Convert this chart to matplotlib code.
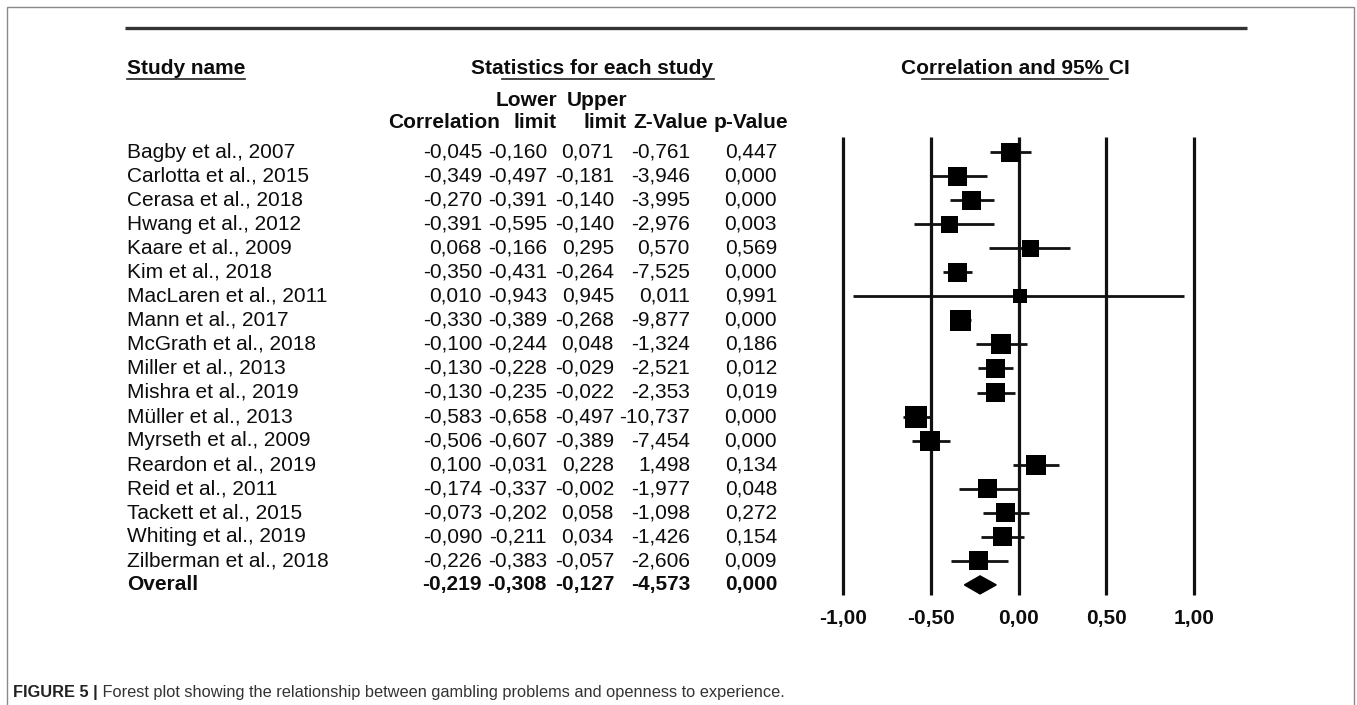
import matplotlib
matplotlib.use("Agg")
import matplotlib.pyplot as plt
from matplotlib import transforms
from matplotlib.lines import Line2D
from matplotlib.patches import Rectangle, Polygon

# ---------------- data ----------------
studies = ["Bagby et al., 2007", "Carlotta et al., 2015", "Cerasa et al., 2018",
           "Hwang et al., 2012", "Kaare et al., 2009", "Kim et al., 2018",
           "MacLaren et al., 2011", "Mann et al., 2017", "McGrath et al., 2018",
           "Miller et al., 2013", "Mishra et al., 2019", "Müller et al., 2013",
           "Myrseth et al., 2009", "Reardon et al., 2019", "Reid et al., 2011",
           "Tackett et al., 2015", "Whiting et al., 2019", "Zilberman et al., 2018"]
correlation = [-0.045, -0.349, -0.270, -0.391, 0.068, -0.350, 0.010, -0.330, -0.100,
               -0.130, -0.130, -0.583, -0.506, 0.100, -0.174, -0.073, -0.090, -0.226]
lower_limit = [-0.160, -0.497, -0.391, -0.595, -0.166, -0.431, -0.943, -0.389, -0.244,
               -0.228, -0.235, -0.658, -0.607, -0.031, -0.337, -0.202, -0.211, -0.383]
upper_limit = [0.071, -0.181, -0.140, -0.140, 0.295, -0.264, 0.945, -0.268, 0.048,
               -0.029, -0.022, -0.497, -0.389, 0.228, -0.002, 0.058, 0.034, -0.057]
z_value = [-0.761, -3.946, -3.995, -2.976, 0.570, -7.525, 0.011, -9.877, -1.324,
           -2.521, -2.353, -10.737, -7.454, 1.498, -1.977, -1.098, -1.426, -2.606]
p_value = [0.447, 0.000, 0.000, 0.003, 0.569, 0.000, 0.991, 0.000, 0.186,
           0.012, 0.019, 0.000, 0.000, 0.134, 0.048, 0.272, 0.154, 0.009]
overall_label = "Overall"
overall = dict(correlation=-0.219, lower=-0.308, upper=-0.127, z=-4.573, p=0.000)
axis_ticks = [-1.0, -0.5, 0.0, 0.5, 1.0]

# relative square sizes (pixels) (study weights)
square_px = [19, 19, 19, 17, 17, 19, 14, 21, 20, 19, 19, 22, 20, 20, 19, 19, 19, 19]

# ---------------- layout helpers ----------------
W, H = 1357, 705
plt.rcParams['font.family'] = ['Liberation Sans', 'DejaVu Sans']
fig = plt.figure(figsize=(W / 100, H / 100), dpi=100)


def fx(x):
    return x / W


def fy(y):
    return 1 - y / H


FS = 15
TXT = '#0d0d0d'

# frame
fig.add_artist(Rectangle((fx(7), fy(715)), fx(1354) - fx(7), fy(7) - fy(715),
                         transform=fig.transFigure, fill=False,
                         edgecolor='#8a8a8a', lw=1.0))
# top rule
fig.add_artist(Line2D([fx(125), fx(1247)], [fy(28), fy(28)], transform=fig.transFigure,
                      color='#333333', lw=2.4, solid_capstyle='butt'))

# forest axes
row_top, row_step = 152, 24.05
ax_top, ax_bot = 137, 595
ax = fig.add_axes([fx(843), fy(ax_bot), fx(1194) - fx(843), fy(ax_top) - fy(ax_bot)])
n = len(studies)
ax.set_xlim(-1, 1)
ax.set_ylim((ax_bot - row_top) / row_step, (ax_top - row_top) / row_step)
for s in ax.spines.values():
    s.set_visible(False)
ax.set_yticks([])
ax.set_xticks(axis_ticks)
ax.set_xticklabels([f"{t:.2f}".replace('.', ',') for t in axis_ticks],
                   fontsize=FS, fontweight='bold', color=TXT)
ax.tick_params(axis='x', length=0, pad=10)
ax.patch.set_visible(False)

ylo, yhi = ax.get_ylim()
ax.vlines(axis_ticks, yhi, ylo, color='#111111', lw=2.3, clip_on=False)

rows = list(range(n))
ax.hlines(rows, lower_limit, upper_limit, color='#111111', lw=2.0, clip_on=False)
ax.scatter(correlation, rows, marker='s', s=[(p * 0.72) ** 2 for p in square_px],
           color='black', zorder=3, clip_on=False, linewidths=0)
oy = n
dh = 9 / row_step
ax.add_patch(Polygon([(overall['lower'], oy), (overall['correlation'], oy - dh),
                      (overall['upper'], oy), (overall['correlation'], oy + dh)],
                     closed=True, color='black', zorder=3, clip_on=False))

# table text
tr = transforms.blended_transform_factory(fig.transFigure, ax.transData)
col_right = [482, 547, 614, 690, 777]


def fmt(v):
    return f"{v:.3f}".replace('.', ',')


for i in range(n):
    fig.text(fx(127), i, studies[i], transform=tr, fontsize=FS, color=TXT, va='center')
    vals = [correlation[i], lower_limit[i], upper_limit[i], z_value[i], p_value[i]]
    for xr, v in zip(col_right, vals):
        fig.text(fx(xr), i, fmt(v), transform=tr, fontsize=FS, color=TXT,
                 va='center', ha='right')
fig.text(fx(127), n, overall_label, transform=tr, fontsize=FS, color=TXT, va='center',
         fontweight='bold')
for xr, v in zip(col_right, [overall['correlation'], overall['lower'], overall['upper'],
                             overall['z'], overall['p']]):
    fig.text(fx(xr), n, fmt(v), transform=tr, fontsize=FS, color=TXT, va='center',
             ha='right', fontweight='bold')

# headers
hy = 68
fig.text(fx(127), fy(hy), "Study name", fontsize=FS, fontweight='bold', color=TXT,
         va='center')
fig.text(fx(592), fy(hy), "Statistics for each study", fontsize=FS, fontweight='bold',
         color=TXT, va='center', ha='center')
fig.text(fx(1015), fy(hy), "Correlation and 95% CI", fontsize=FS, fontweight='bold',
         color=TXT, va='center', ha='center')
for a, b in [(127, 245), (502, 714), (922, 1108)]:
    fig.add_artist(Line2D([fx(a), fx(b)], [fy(hy + 11), fy(hy + 11)],
                          transform=fig.transFigure, color='#222222', lw=1.2))

h1, h2 = 100, 122
head_right = [500, 557, 627, 708, 788]
fig.text(fx(head_right[1]), fy(h1), "Lower", fontsize=FS, fontweight='bold', color=TXT,
         va='center', ha='right')
fig.text(fx(head_right[2]), fy(h1), "Upper", fontsize=FS, fontweight='bold', color=TXT,
         va='center', ha='right')
for xr, lab in zip(head_right, ["Correlation", "limit", "limit", "Z-Value", "p-Value"]):
    fig.text(fx(xr), fy(h2), lab, fontsize=FS, fontweight='bold', color=TXT,
             va='center', ha='right')

# caption
CFS = 11.8
cap = fig.text(fx(13), fy(693), "FIGURE 5 |", fontsize=CFS, fontweight='bold',
               color='#222222', va='center')
ax.annotate(" Forest plot showing the relationship between gambling problems and "
            "openness to experience.", xy=(1, 0), xycoords=cap,
            fontsize=CFS, color='#333333', va='bottom', ha='left',
            annotation_clip=False)

fig.savefig("out.png", dpi=100)
